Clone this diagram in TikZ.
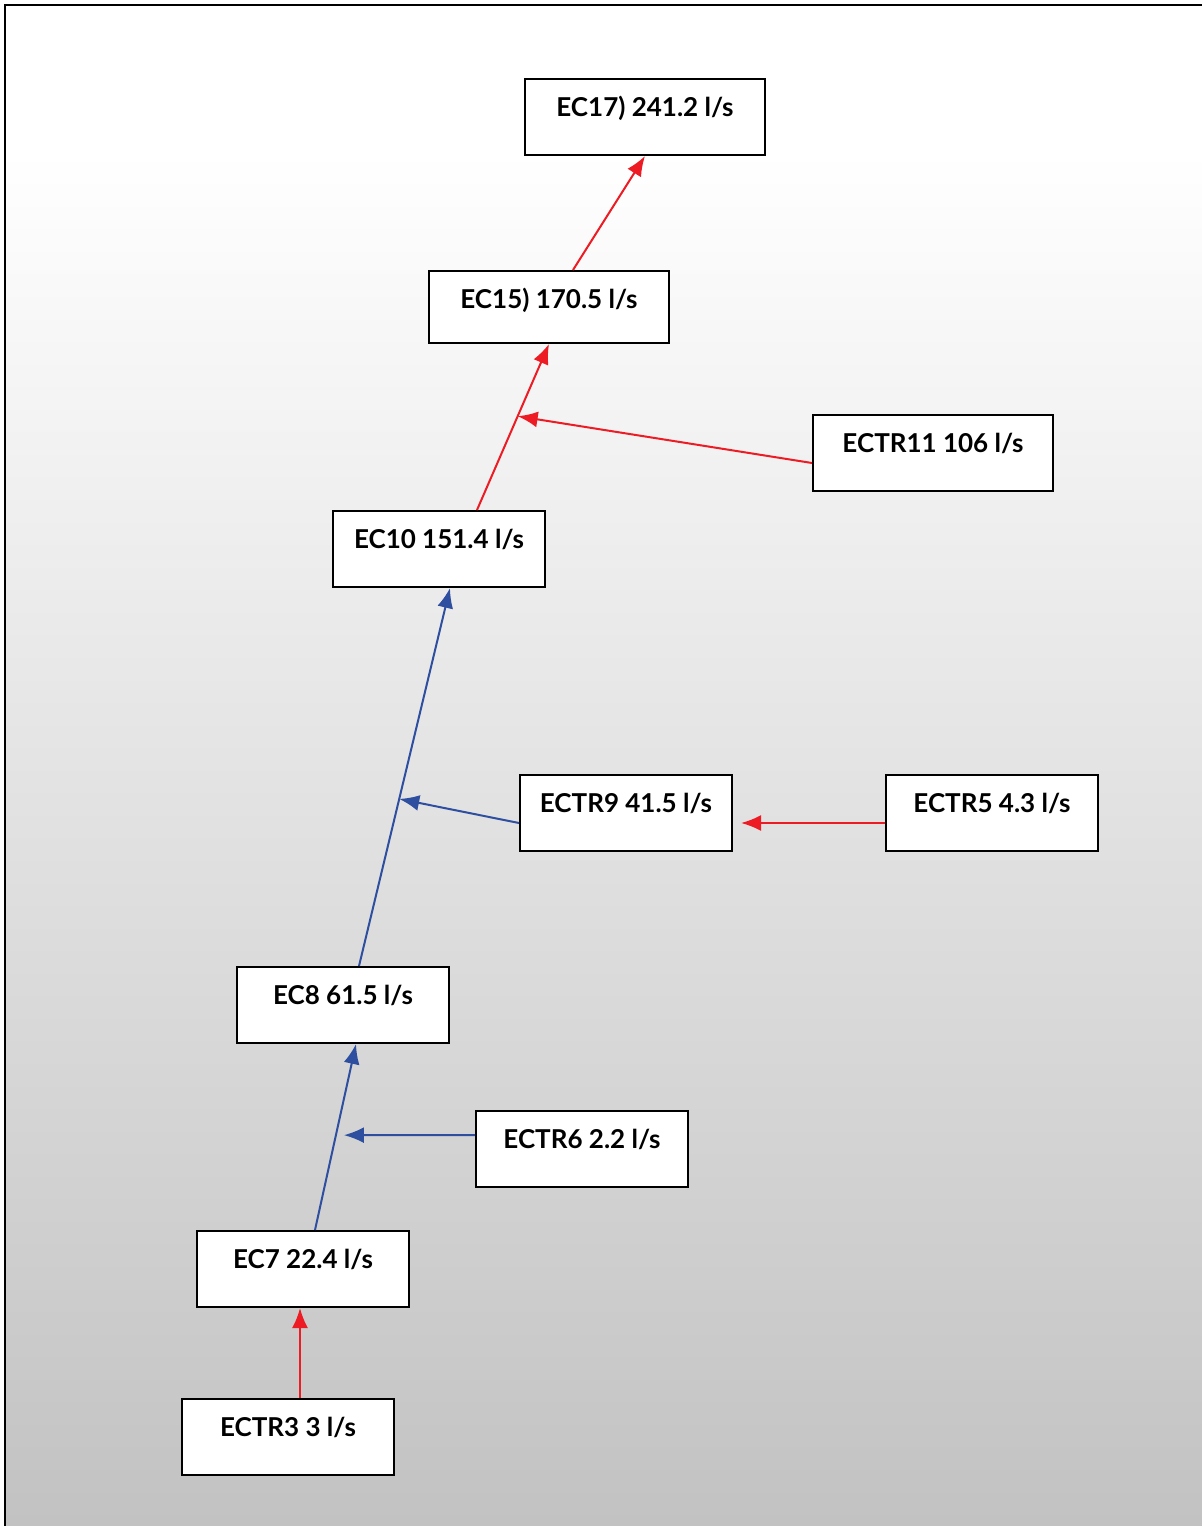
\documentclass[tikz,border=0pt]{standalone}
\usepackage{fontspec}
\setmainfont{Lato}
\usetikzlibrary{arrows.meta,calc}

\definecolor{flowred}{RGB}{237,28,36}
\definecolor{flowblue}{RGB}{46,79,160}
\definecolor{bggrey}{RGB}{194,194,194}

\tikzset{
  ecbox/.style={draw=black,line width=1pt,fill=white,inner sep=0pt,
    minimum width=106pt,minimum height=38pt,text height=18.5pt,text depth=19.5pt,
    font=\fontsize{13}{15}\selectfont\bfseries},
  widebox/.style={minimum width=120pt},
  redflow/.style={draw=flowred,line width=1pt,-{Latex[length=10pt,width=8pt]}},
  blueflow/.style={draw=flowblue,line width=1pt,-{Latex[length=10pt,width=8pt]}}
}

\begin{document}
\begin{tikzpicture}[x=0.5pt,y=-0.5pt]
   \useasboundingbox (0,0) rectangle (1202,1526);
   % fond degrade et cadre
   \fill[white] (5,5) rectangle (1202,1526);
   \shade[top color=white,bottom color=bggrey] (5,150) rectangle (1202,1526);
   \draw[line width=1pt] (1202,5)--(5,5)--(5,1526);

   \node[ecbox,widebox] (ec17) at (645,117) {EC17) 241.2 l/s};
   \node[ecbox,widebox,minimum height=36pt,text depth=17.5pt] (ec15) at (549,307) {EC15) 170.5 l/s};
   \node[ecbox,widebox] (ectr11) at (933,453) {ECTR11 106 l/s};
   \node[ecbox] (ec10) at (439,549) {EC10 151.4 l/s};
   \node[ecbox] (ectr9) at (626,813) {ECTR9 41.5 l/s};
   \node[ecbox] (ectr5) at (992,813) {ECTR5 4.3 l/s};
   \node[ecbox] (ec8) at (343,1005) {EC8 61.5 l/s};
   \node[ecbox] (ectr6) at (582,1149) {ECTR6 2.2 l/s};
   \node[ecbox] (ec7) at (303,1269) {EC7 22.4 l/s};
   \node[ecbox] (ectr3) at (288,1437) {ECTR3 3 l/s};

   % partie haute
   \draw[redflow] ([xshift=12pt]ec15.north)--(ec17.south);
   \coordinate (s10) at ([xshift=19pt]ec10.north);
   \coordinate (e15) at (ec15.south);
   \draw[redflow] (s10)--(e15);
   \draw[redflow] ([yshift=-5pt]ectr11.west)--($(s10)!0.565!(e15)$);

   % partie milieu
   \coordinate (s8) at ([xshift=8pt]ec8.north);
   \coordinate (e10) at ([xshift=5.5pt]ec10.south);
   \draw[blueflow] (s8)--(e10);
   \draw[blueflow] ([yshift=-5pt]ectr9.west)--($(s8)!0.442!(e10)$);
   \draw[redflow] ([yshift=-5pt]ectr5.west)--([xshift=4pt,yshift=-5pt]ectr9.east);

   % partie basse
   \coordinate (s7) at ([xshift=6pt]ec7.north);
   \coordinate (e8) at ([xshift=6.5pt]ec8.south);
   \draw[blueflow] (s7)--(e8);
   \draw[blueflow] ([yshift=7pt]ectr6.west)--([xshift=4pt]$(s7)!0.51!(e8)$);
   \draw[redflow] ([xshift=6pt]ectr3.north)--([xshift=6pt]ectr3.north |- ec7.south);
\end{tikzpicture}
\end{document}
